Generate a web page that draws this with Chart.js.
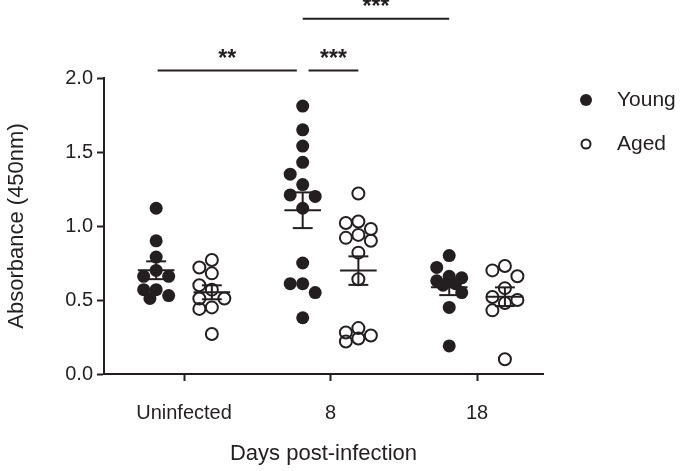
<!DOCTYPE html>
<html>
<head>
<meta charset="utf-8">
<script src="https://cdn.jsdelivr.net/npm/chart.js@4.4.1/dist/chart.umd.min.js"></script>
<style>
  html, body { margin: 0; padding: 0; background: #fff; }
</style>
</head>
<body>
<canvas id="chart" width="685" height="471"></canvas>
<script>
// tick labels / groups
const categories = ["Uninfected", "8", "18"];
const yTicks = [0, 0.5, 1.0, 1.5, 2.0];

// absorbance readings, one list per group
const youngUninfected = [1.12, 0.90, 0.79, 0.70, 0.66, 0.66, 0.57, 0.57, 0.53, 0.51];
const agedUninfected = [0.77, 0.72, 0.68, 0.60, 0.57, 0.51, 0.51, 0.44, 0.45, 0.27];
const youngDay8 = [1.81, 1.65, 1.54, 1.43, 1.35, 1.28, 1.21, 1.20, 1.12, 0.75, 0.61, 0.61, 0.55, 0.38];
const agedDay8 = [1.22, 1.03, 1.02, 0.98, 0.94, 0.92, 0.90, 0.82, 0.64, 0.31, 0.28, 0.26, 0.24, 0.22];
const youngDay18 = [0.80, 0.72, 0.66, 0.65, 0.63, 0.61, 0.60, 0.55, 0.45, 0.19];
const agedDay18 = [0.73, 0.70, 0.66, 0.58, 0.52, 0.50, 0.48, 0.43, 0.10];

const youngGroups = [youngUninfected, youngDay8, youngDay18];
const agedGroups = [agedUninfected, agedDay8, agedDay18];

// significance brackets (data units)
const comparisons = [
  { from: -0.18, to: 0.77, level: 2.05, label: "**" },
  { from: 0.85, to: 1.19, level: 2.05, label: "***" },
  { from: 0.81, to: 1.81, level: 2.4, label: "***" }
];

const ink = "#231f20";
const family = "'Liberation Sans', Arial, Helvetica, sans-serif";
const shift = 0.19;
const pxX = 146.5, pxY = 147.5, step = 12.5, minDist = 12;

// beeswarm: columns at 0 / -1 / +1 dot widths; when all are taken,
// settle on the least crowded spot (half steps allowed)
function swarm(values, center) {
  const order = values.map((v, i) => i).sort((a, b) => values[b] - values[a]);
  const placed = [];
  const out = [];
  const nearest = (o, y) => placed.reduce((m, p) => Math.min(m, Math.hypot(o - p.x, y - p.y)), Infinity);
  order.forEach(i => {
    const y = values[i] * pxY;
    let off = [0, -step, step].find(o => nearest(o, y) >= minDist);
    if (off === undefined) {
      let best = -1;
      [0, -step / 2, step / 2, -step, step].forEach(o => {
        const d = nearest(o, y);
        if (d > best) { best = d; off = o; }
      });
    }
    placed.push({ x: off, y });
    out.push({ x: center + off / pxX, y: values[i] });
  });
  return out;
}

const youngPoints = youngGroups.flatMap((g, i) => swarm(g, i - shift));
const agedPoints = agedGroups.flatMap((g, i) => swarm(g, i + shift));

function stats(vals) {
  const n = vals.length;
  const mean = vals.reduce((a, b) => a + b, 0) / n;
  const sd = Math.sqrt(vals.reduce((a, b) => a + (b - mean) ** 2, 0) / (n - 1));
  return { mean, sem: sd / Math.sqrt(n) };
}

const meanSem = {
  id: "meanSem",
  afterDatasetsDraw(chart) {
    const { ctx, scales: { x, y } } = chart;
    ctx.save();
    ctx.strokeStyle = ink;
    ctx.lineWidth = 2;
    const draw = (groups, side) => groups.forEach((g, i) => {
      const s = stats(g);
      const cx = i + side;
      const seg = (x1, x2, v) => {
        ctx.beginPath();
        ctx.moveTo(x.getPixelForValue(x1), y.getPixelForValue(v));
        ctx.lineTo(x.getPixelForValue(x2), y.getPixelForValue(v));
        ctx.stroke();
      };
      seg(cx - 0.125, cx + 0.125, s.mean);
      seg(cx - 0.068, cx + 0.068, s.mean + s.sem);
      seg(cx - 0.068, cx + 0.068, s.mean - s.sem);
      ctx.beginPath();
      ctx.moveTo(x.getPixelForValue(cx), y.getPixelForValue(s.mean - s.sem));
      ctx.lineTo(x.getPixelForValue(cx), y.getPixelForValue(s.mean + s.sem));
      ctx.stroke();
    });
    draw(youngGroups, -shift);
    draw(agedGroups, shift);
    ctx.restore();
  }
};

const brackets = {
  id: "brackets",
  afterDraw(chart) {
    const { ctx, scales: { x, y } } = chart;
    ctx.save();
    ctx.strokeStyle = ink;
    ctx.fillStyle = ink;
    ctx.lineWidth = 2;
    ctx.font = "bold 23px " + family;
    ctx.textAlign = "center";
    ctx.textBaseline = "alphabetic";
    comparisons.forEach(c => {
      const py = y.getPixelForValue(c.level);
      const x1 = x.getPixelForValue(c.from), x2 = x.getPixelForValue(c.to);
      ctx.beginPath();
      ctx.moveTo(x1, py);
      ctx.lineTo(x2, py);
      ctx.stroke();
      ctx.fillText(c.label, (x1 + x2) / 2, py - 5);
    });
    ctx.restore();
  }
};

const sideLegend = {
  id: "sideLegend",
  afterDraw(chart) {
    const { ctx } = chart;
    ctx.save();
    ctx.font = "21px " + family;
    ctx.textBaseline = "middle";
    ctx.fillStyle = ink;
    chart.data.datasets.forEach((ds, i) => {
      const cy = 100 + i * 44;
      ctx.beginPath();
      if (i === 0) {
        ctx.arc(586, cy, 6, 0, Math.PI * 2);
        ctx.fill();
      } else {
        ctx.arc(586, cy, 4.5, 0, Math.PI * 2);
        ctx.lineWidth = 2;
        ctx.strokeStyle = ink;
        ctx.stroke();
      }
      ctx.fillText(ds.label, 617, cy);
    });
    ctx.restore();
  }
};

new Chart(document.getElementById("chart"), {
  type: "scatter",
  data: {
    datasets: [
      {
        label: "Young",
        data: youngPoints,
        pointRadius: 6.5,
        pointBackgroundColor: ink,
        pointBorderColor: ink,
        pointBorderWidth: 0
      },
      {
        label: "Aged",
        data: agedPoints,
        pointRadius: 6,
        pointBackgroundColor: "rgba(0,0,0,0)",
        pointBorderColor: ink,
        pointBorderWidth: 2
      }
    ]
  },
  options: {
    responsive: false,
    animation: false,
    devicePixelRatio: 1,
    layout: { padding: { top: 78, right: 142, bottom: 0, left: 0 } },
    plugins: {
      legend: { display: false },
      tooltip: { enabled: false }
    },
    scales: {
      x: {
        type: "linear",
        min: -0.546,
        max: 2.45,
        afterBuildTicks: s => { s.ticks = categories.map((c, i) => ({ value: i })); },
        afterFit: s => { s.height = 97; },
        ticks: {
          callback: v => categories[v],
          color: ink,
          font: { family, size: 20 },
          padding: 20,
          maxRotation: 0
        },
        grid: { drawOnChartArea: false, drawTicks: true, tickLength: 7, tickWidth: 2, tickColor: ink },
        border: { display: true, color: ink, width: 2 },
        title: {
          display: true,
          text: "Days post-infection",
          color: ink,
          font: { family, size: 22 },
          padding: { top: 0, bottom: 4 }
        }
      },
      y: {
        min: 0,
        max: 2,
        afterBuildTicks: s => { s.ticks = yTicks.map(v => ({ value: v })); },
        afterFit: s => { s.width = 104; },
        ticks: {
          callback: v => v.toFixed(1),
          color: ink,
          font: { family, size: 20 },
          padding: 4
        },
        grid: { drawOnChartArea: false, drawTicks: true, tickLength: 7, tickWidth: 2, tickColor: ink },
        border: { display: true, color: ink, width: 2 },
        title: {
          display: true,
          text: "Absorbance (450nm)",
          color: ink,
          font: { family, size: 22 },
          padding: { top: 4, bottom: 0 }
        }
      }
    }
  },
  plugins: [meanSem, brackets, sideLegend]
});
</script>
</body>
</html>
